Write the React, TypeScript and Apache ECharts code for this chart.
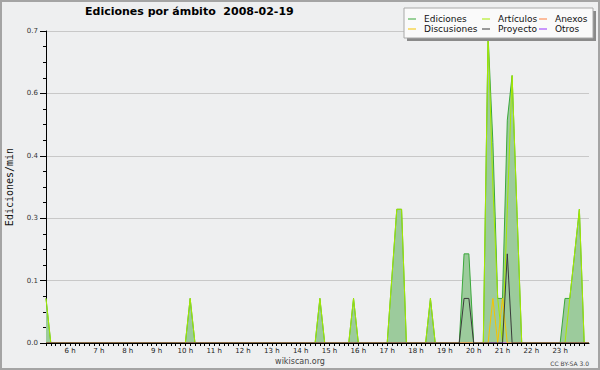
import React, { useEffect, useRef } from "react";
import * as echarts from "echarts";

// 10-minute bins starting at 5:10 (minutes since midnight), ending 24:00
const START_MIN = 310;
const STEP_MIN = 10;
const END_MIN = 1440;

const ediciones = [
  0.1, 0, 0, 0, 0, 0, 0, 0, 0, 0,
  0, 0, 0, 0, 0, 0, 0, 0, 0, 0,
  0, 0, 0, 0, 0, 0, 0, 0, 0, 0,
  0.1, 0, 0, 0, 0, 0, 0, 0, 0, 0,
  0, 0, 0, 0, 0, 0, 0, 0, 0, 0,
  0, 0, 0, 0, 0, 0, 0, 0.1, 0, 0,
  0, 0, 0, 0, 0.1, 0, 0, 0, 0, 0,
  0, 0, 0.15, 0.3, 0.3, 0, 0, 0, 0, 0,
  0.1, 0, 0, 0, 0, 0, 0, 0.2, 0.2, 0,
  0, 0, 0.69, 0.45, 0.1, 0.1, 0.5, 0.6, 0.3, 0,
  0, 0, 0, 0, 0, 0, 0, 0, 0.1, 0.1,
  0.2, 0.3, 0, 0,
];

const articulos = [
  0.1, 0, 0, 0, 0, 0, 0, 0, 0, 0,
  0, 0, 0, 0, 0, 0, 0, 0, 0, 0,
  0, 0, 0, 0, 0, 0, 0, 0, 0, 0,
  0.1, 0, 0, 0, 0, 0, 0, 0, 0, 0,
  0, 0, 0, 0, 0, 0, 0, 0, 0, 0,
  0, 0, 0, 0, 0, 0, 0, 0.1, 0, 0,
  0, 0, 0, 0, 0.1, 0, 0, 0, 0, 0,
  0, 0, 0.15, 0.3, 0.3, 0, 0, 0, 0, 0,
  0.1, 0, 0, 0, 0, 0, 0, 0, 0, 0,
  0, 0, 0.69, 0.35, 0.1, 0, 0.3, 0.6, 0.3, 0,
  0, 0, 0, 0, 0, 0, 0, 0, 0, 0.1,
  0.2, 0.3, 0, 0,
];

const anexos = [
  0, 0, 0, 0, 0, 0, 0, 0, 0, 0,
  0, 0, 0, 0, 0, 0, 0, 0, 0, 0,
  0, 0, 0, 0, 0, 0, 0, 0, 0, 0,
  0, 0, 0, 0, 0, 0, 0, 0, 0, 0,
  0, 0, 0, 0, 0, 0, 0, 0, 0, 0,
  0, 0, 0, 0, 0, 0, 0, 0, 0, 0,
  0, 0, 0, 0, 0, 0, 0, 0, 0, 0,
  0, 0, 0, 0, 0, 0, 0, 0, 0, 0,
  0, 0, 0, 0, 0, 0, 0, 0, 0, 0,
  0, 0, 0, 0, 0, 0, 0, 0, 0, 0,
  0, 0, 0, 0, 0, 0, 0, 0, 0, 0,
  0, 0, 0, 0,
];

const discusiones = [
  0, 0, 0, 0, 0, 0, 0, 0, 0, 0,
  0, 0, 0, 0, 0, 0, 0, 0, 0, 0,
  0, 0, 0, 0, 0, 0, 0, 0, 0, 0,
  0, 0, 0, 0, 0, 0, 0, 0, 0, 0,
  0, 0, 0, 0, 0, 0, 0, 0, 0, 0,
  0, 0, 0, 0, 0, 0, 0, 0, 0, 0,
  0, 0, 0, 0, 0, 0, 0, 0, 0, 0,
  0, 0, 0, 0, 0, 0, 0, 0, 0, 0,
  0, 0, 0, 0, 0, 0, 0, 0, 0, 0,
  0, 0, 0, 0.1, 0, 0.1, 0, 0, 0, 0,
  0, 0, 0, 0, 0, 0, 0, 0, 0, 0,
  0, 0, 0, 0,
];

const proyecto = [
  0, 0, 0, 0, 0, 0, 0, 0, 0, 0,
  0, 0, 0, 0, 0, 0, 0, 0, 0, 0,
  0, 0, 0, 0, 0, 0, 0, 0, 0, 0,
  0, 0, 0, 0, 0, 0, 0, 0, 0, 0,
  0, 0, 0, 0, 0, 0, 0, 0, 0, 0,
  0, 0, 0, 0, 0, 0, 0, 0, 0, 0,
  0, 0, 0, 0, 0, 0, 0, 0, 0, 0,
  0, 0, 0, 0, 0, 0, 0, 0, 0, 0,
  0, 0, 0, 0, 0, 0, 0, 0.1, 0.1, 0,
  0, 0, 0, 0, 0, 0, 0.2, 0, 0, 0,
  0, 0, 0, 0, 0, 0, 0, 0, 0, 0,
  0, 0, 0, 0,
];

const otros = [
  0, 0, 0, 0, 0, 0, 0, 0, 0, 0,
  0, 0, 0, 0, 0, 0, 0, 0, 0, 0,
  0, 0, 0, 0, 0, 0, 0, 0, 0, 0,
  0, 0, 0, 0, 0, 0, 0, 0, 0, 0,
  0, 0, 0, 0, 0, 0, 0, 0, 0, 0,
  0, 0, 0, 0, 0, 0, 0, 0, 0, 0,
  0, 0, 0, 0, 0, 0, 0, 0, 0, 0,
  0, 0, 0, 0, 0, 0, 0, 0, 0, 0,
  0, 0, 0, 0, 0, 0, 0, 0, 0, 0,
  0, 0, 0, 0, 0, 0, 0, 0, 0, 0,
  0, 0, 0, 0, 0, 0, 0, 0, 0, 0,
  0, 0, 0, 0,
];

const Y_MAX = 0.7;
const Y_STEP = 0.14;

const TITLE = "Ediciones por ámbito  2008-02-19";
const Y_NAME = "Ediciones/min";

const toPairs = (vals: number[]) =>
  vals.map((v, i) => [START_MIN + i * STEP_MIN, v]);

export default function App() {
  const ref = useRef<HTMLDivElement>(null);

  useEffect(() => {
    if (!ref.current) return;
    const chart = echarts.init(ref.current, null, { renderer: "svg" });

    const lineSeries = (name: string, color: string, vals: number[], extra: any = {}) => ({
      name,
      type: "line",
      data: toPairs(vals),
      showSymbol: false,
      symbol: "none",
      color,
      lineStyle: { width: 1, color },
      itemStyle: { color },
      silent: true,
      ...extra,
    });

    const legendCommon = {
      orient: "vertical",
      top: 14,
      itemWidth: 8,
      itemHeight: 1,
      itemGap: 0,
      icon: "rect",
      selectedMode: false,
      z: 30,
      padding: 0,
      textStyle: {
        fontFamily: "DejaVu Sans",
        fontSize: 9,
        lineHeight: 10,
        color: "#111",
        padding: [0, 0, 0, 3],
      },
    };

    chart.setOption({
      animation: false,
      backgroundColor: "#eeeff0",
      textStyle: { fontFamily: "DejaVu Sans" },
      title: {
        text: TITLE,
        left: 85,
        top: 6,
        padding: 0,
        textStyle: {
          fontFamily: "DejaVu Sans",
          fontWeight: "bold",
          fontSize: 11,
          color: "#000",
        },
      },
      legend: [
        { ...legendCommon, left: 408, data: ["Ediciones", "Discusiones"] },
        { ...legendCommon, left: 482, data: ["Artículos", "Proyecto"] },
        { ...legendCommon, left: 539, data: ["Anexos", "Otros"] },
      ],
      grid: {
        left: 46,
        right: 11,
        top: 31,
        bottom: 27,
        containLabel: false,
        outerBoundsMode: "none",
      },
      xAxis: {
        type: "value",
        min: START_MIN,
        max: END_MIN,
        interval: STEP_MIN,
        z: 10,
        axisLine: { show: true, lineStyle: { color: "#000", width: 1 } },
        axisTick: { show: true, length: 3, lineStyle: { color: "#000" } },
        splitLine: { show: false },
        axisLabel: {
          margin: 4,
          fontSize: 7,
          color: "#222",
          fontFamily: "DejaVu Sans",
          showMaxLabel: false,
          formatter: (v: number) => {
            const r = Math.round(v);
            return r % 60 === 0 && r < END_MIN ? `${r / 60} h` : "";
          },
        },
      },
      yAxis: {
        type: "value",
        min: 0,
        max: Y_MAX,
        interval: Y_STEP,
        name: Y_NAME,
        nameLocation: "middle",
        nameRotate: 90,
        nameGap: 32,
        nameTextStyle: {
          fontFamily: "DejaVu Sans Mono",
          fontSize: 10,
          color: "#111",
        },
        axisLine: { show: true, lineStyle: { color: "#000", width: 1 } },
        axisTick: { show: true, length: 6, lineStyle: { color: "#000" } },
        minorTick: { show: true, splitNumber: 4, length: 3, lineStyle: { color: "#000" } },
        splitLine: { show: true, lineStyle: { color: "#c8c8c8", width: 1 } },
        axisLabel: {
          margin: 8,
          fontSize: 7,
          color: "#333",
          fontFamily: "DejaVu Sans",
          formatter: (v: number) => v.toFixed(1),
        },
      },
      graphic: [
        {
          type: "rect",
          z: 20,
          shape: { x: 407, y: 11, width: 189, height: 30 },
          style: { fill: "#8a8a8a" },
          silent: true,
        },
        {
          type: "rect",
          z: 21,
          shape: { x: 404, y: 8, width: 189, height: 30 },
          style: { fill: "#fafafa", stroke: "#a8a8a8", lineWidth: 1 },
          silent: true,
        },
        {
          type: "text",
          z: 21,
          x: 300,
          y: 361,
          style: {
            text: "wikiscan.org",
            fontFamily: "DejaVu Sans",
            fontSize: 8,
            fill: "#444",
            align: "center",
            verticalAlign: "middle",
          },
        },
        {
          type: "text",
          z: 21,
          x: 589,
          y: 363,
          style: {
            text: "CC BY-SA 3.0",
            fontFamily: "DejaVu Sans",
            fontSize: 6,
            fill: "#444",
            align: "right",
            verticalAlign: "middle",
          },
        },
        {
          type: "rect",
          z: 25,
          shape: { x: 1, y: 1, width: 598, height: 368 },
          style: { fill: "none", stroke: "#a4a4a4", lineWidth: 2 },
          silent: true,
        },
      ],
      series: [
        lineSeries("Ediciones", "#3aa83a", ediciones, {
          areaStyle: { color: "#9ccb9c", opacity: 1 },
          z: 2,
        }),
        lineSeries("Artículos", "#a6ea00", articulos, { z: 3 }),
        lineSeries("Anexos", "#ff7f3f", anexos, { z: 3 }),
        lineSeries("Discusiones", "#f5c400", discusiones, { z: 4 }),
        lineSeries("Proyecto", "#3a3a3a", proyecto, { z: 5 }),
        lineSeries("Otros", "#9933ff", otros, { z: 3 }),
      ],
    });

    return () => chart.dispose();
  }, []);

  return (
    <div
      ref={ref}
      style={{ position: "absolute", left: 0, top: 0, width: 600, height: 370 }}
    />
  );
}
